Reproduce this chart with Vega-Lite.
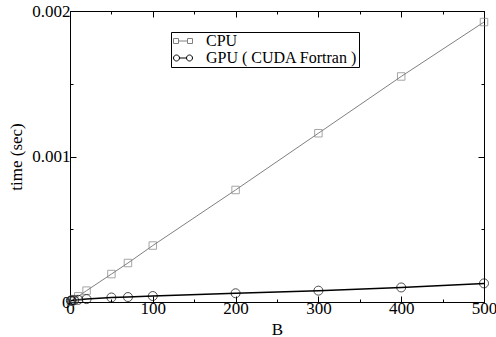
{
  "$schema": "https://vega.github.io/schema/vega-lite/v6.json",
  "width": 414,
  "height": 291,
  "autosize": "none",
  "padding": {"left": 70, "top": 11, "right": 12, "bottom": 35},
  "config": {
    "font": "Liberation Serif",
    "view": {"stroke": "black", "strokeWidth": 1},
    "axis": {
      "domainColor": "black", "tickColor": "black", "labelColor": "black", "titleColor": "black",
      "labelFont": "Liberation Serif", "titleFont": "Liberation Serif",
      "labelFontSize": 17, "titleFontSize": 17, "titleFontWeight": "normal",
      "grid": false, "labelFlush": false, "labelOverlap": false
    },
    "legend": {
      "orient": "none", "legendX": 101, "legendY": 21,
      "fillColor": "white", "strokeColor": "black", "padding": 1,
      "labelFont": "Liberation Serif", "labelFontSize": 16, "labelColor": "black",
      "symbolOffset": 3, "labelOffset": 15, "rowPadding": 1, "symbolStrokeWidth": 1, "symbolSize": 25
    }
  },
  "data": {"values": [
    {"B": 1, "time": 0.000004, "series": "CPU"},
    {"B": 2, "time": 0.000008, "series": "CPU"},
    {"B": 5, "time": 0.00002, "series": "CPU"},
    {"B": 10, "time": 0.000039, "series": "CPU"},
    {"B": 20, "time": 0.000078, "series": "CPU"},
    {"B": 50, "time": 0.000192, "series": "CPU"},
    {"B": 70, "time": 0.000268, "series": "CPU"},
    {"B": 100, "time": 0.000388, "series": "CPU"},
    {"B": 200, "time": 0.00077, "series": "CPU"},
    {"B": 300, "time": 0.00116, "series": "CPU"},
    {"B": 400, "time": 0.00155, "series": "CPU"},
    {"B": 500, "time": 0.001924, "series": "CPU"},
    {"B": 1, "time": 0.00001, "series": "GPU ( CUDA Fortran )"},
    {"B": 2, "time": 0.00001, "series": "GPU ( CUDA Fortran )"},
    {"B": 5, "time": 0.000012, "series": "GPU ( CUDA Fortran )"},
    {"B": 10, "time": 0.000015, "series": "GPU ( CUDA Fortran )"},
    {"B": 20, "time": 0.00002, "series": "GPU ( CUDA Fortran )"},
    {"B": 50, "time": 0.000031, "series": "GPU ( CUDA Fortran )"},
    {"B": 70, "time": 0.000034, "series": "GPU ( CUDA Fortran )"},
    {"B": 100, "time": 0.000041, "series": "GPU ( CUDA Fortran )"},
    {"B": 200, "time": 0.00006, "series": "GPU ( CUDA Fortran )"},
    {"B": 300, "time": 0.000078, "series": "GPU ( CUDA Fortran )"},
    {"B": 400, "time": 0.0001, "series": "GPU ( CUDA Fortran )"},
    {"B": 500, "time": 0.000128, "series": "GPU ( CUDA Fortran )"}
  ]},
  "encoding": {
    "x": {"field": "B", "type": "quantitative", "scale": {"domain": [0, 500], "nice": false}},
    "y": {"field": "time", "type": "quantitative", "scale": {"domain": [0, 0.002], "nice": false}}
  },
  "layer": [
    {
      "transform": [{"filter": "datum.series === 'CPU'"}],
      "mark": {"type": "line", "strokeWidth": 1},
      "encoding": {
        "x": {"field": "B", "type": "quantitative",
          "axis": {"title": "B", "orient": "bottom", "values": [0,50,100,150,200,250,300,350,400,450,500],
            "labelExpr": "datum.value % 100 === 0 ? datum.label : ''",
            "tickSize": {"condition": {"test": "datum.value % 100 === 0", "value": -6}, "value": -3},
            "labelPadding": 4, "titlePadding": 2}},
        "y": {"field": "time", "type": "quantitative",
          "axis": {"title": "time (sec)", "orient": "left", "values": [0, 0.0005, 0.001, 0.0015, 0.002],
            "labelExpr": "abs(datum.value*1000 - round(datum.value*1000)) < 1e-9 ? (datum.value == 0 ? '0' : format(datum.value, '.3f')) : ''",
            "tickSize": {"condition": {"test": "abs(datum.value*1000 - round(datum.value*1000)) < 1e-9", "value": -6}, "value": -3},
            "labelPadding": 6, "titlePadding": 6}},
        "color": {"field": "series", "type": "nominal",
          "scale": {"domain": ["CPU", "GPU ( CUDA Fortran )"], "range": ["#808080", "#000000"]},
          "legend": {"title": null,
            "encode": {"symbols": {"update": {
              "shape": {"signal": "datum.value === 'CPU' ? 'M-3.8,-1H-1.8V1H-3.8Z M-1.8,0H1.8 M1.8,-1H3.8V1H1.8Z' : 'M-1.4,0A1.2,1.2 0 1,1 -3.8,0A1.2,1.2 0 1,1 -1.4,0Z M-1.4,0H1.4 M1.4,0A1.2,1.2 0 1,1 3.8,0A1.2,1.2 0 1,1 1.4,0Z'"}}}}}}
      }
    },
    {
      "transform": [{"filter": "datum.series !== 'CPU'"}],
      "mark": {"type": "line", "strokeWidth": 1.5},
      "encoding": {
        "x": {"field": "B", "type": "quantitative",
          "axis": {"title": null, "orient": "top", "labels": false, "values": [0,50,100,150,200,250,300,350,400,450,500],
            "tickSize": {"condition": {"test": "datum.value % 100 === 0", "value": -6}, "value": -3}}},
        "y": {"field": "time", "type": "quantitative",
          "axis": {"title": null, "orient": "right", "labels": false, "values": [0, 0.0005, 0.001, 0.0015, 0.002],
            "tickSize": {"condition": {"test": "abs(datum.value*1000 - round(datum.value*1000)) < 1e-9", "value": -6}, "value": -3}}},
        "color": {"field": "series", "type": "nominal"}
      }
    },
    {
      "transform": [{"filter": "datum.series === 'CPU'"}],
      "mark": {"type": "point", "shape": "square", "filled": false, "size": 56, "strokeWidth": 1, "color": "#808080"},
      "encoding": {
        "x": {"field": "B", "type": "quantitative", "axis": null},
        "y": {"field": "time", "type": "quantitative", "axis": null}
      }
    },
    {
      "transform": [{"filter": "datum.series !== 'CPU'"}],
      "mark": {"type": "point", "shape": "circle", "filled": false, "size": 81, "strokeWidth": 1, "color": "#000000"},
      "encoding": {
        "x": {"field": "B", "type": "quantitative", "axis": null},
        "y": {"field": "time", "type": "quantitative", "axis": null}
      }
    }
  ],
  "resolve": {"axis": {"x": "independent", "y": "independent"}}
}
